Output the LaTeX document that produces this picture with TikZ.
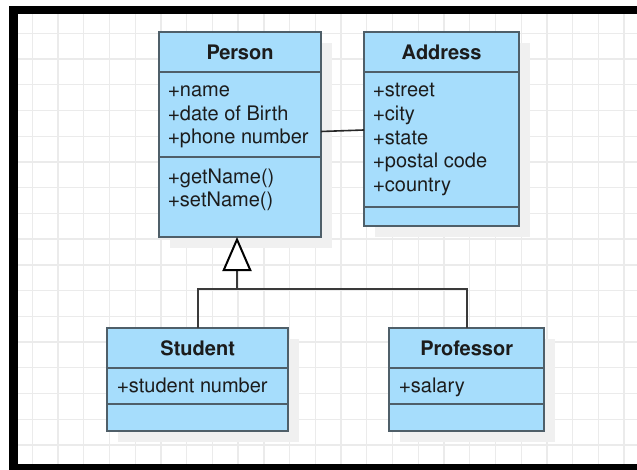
\documentclass[tikz,border=0pt]{standalone}
\usepackage[T1]{fontenc}
\usepackage{helvet}
\renewcommand{\familydefault}{\sfdefault}
\usetikzlibrary{arrows.meta}
\definecolor{classfill}{HTML}{A6DDFC}
\definecolor{classline}{HTML}{4F5F69}
\definecolor{gridgrey}{HTML}{EBEBEB}
\definecolor{txt}{HTML}{1C1C1C}
\definecolor{wire}{HTML}{3A3A3A}

\begin{document}
\begin{tikzpicture}[x=1bp,y=-1bp,
  classbox/.style={draw=classline, fill=classfill, line width=2bp, rectangle,
    inner sep=0pt, outer sep=0pt, anchor=north west},
  boxshadow/.style={fill=black!6, rectangle,
    inner sep=0pt, outer sep=0pt, anchor=north west},
  divider/.style={draw=classline, line width=2bp},
  gridline/.style={draw=gridgrey, line width=1.3bp},
  classname/.style={font=\fontsize{20bp}{24bp}\selectfont\bfseries, text=txt,
    inner sep=0pt, anchor=base},
  member/.style={font=\fontsize{20bp}{24bp}\selectfont, text=txt,
    inner sep=0pt, anchor=base west},
  wireline/.style={draw=wire, line width=2bp},
]
\useasboundingbox (0,0) rectangle (637,470);
\fill[white] (0,0) rectangle (637,470);

% background grid
\foreach \i in {0,...,23}
  \draw[gridline] ({32.3+25.73*\i},14) -- ({32.3+25.73*\i},464);
\foreach \j in {0,...,16}
  \draw[gridline] (18,{33.3+25.73*\j}) -- (637,{33.3+25.73*\j});

% frame: top, left and bottom bands
\fill[black] (9,6) rectangle (637,14);
\fill[black] (9,6) rectangle (18,470);
\fill[black] (9,464) rectangle (637,470);

% drop shadows
\node[boxshadow, minimum width=162bp, minimum height=205bp] (person-sh) at (170,43) {};
\node[boxshadow, minimum width=155bp, minimum height=194bp] (address-sh) at (375,43) {};
\node[boxshadow, minimum width=181bp, minimum height=103bp] (student-sh) at (118,339) {};
\node[boxshadow, minimum width=155bp, minimum height=103bp] (professor-sh) at (400,339) {};

% class boxes
\node[classbox, minimum width=162bp, minimum height=205bp] (person) at (159,32) {};
\node[classbox, minimum width=155bp, minimum height=194bp] (address) at (364,32) {};
\node[classbox, minimum width=181bp, minimum height=103bp] (student) at (107,328) {};
\node[classbox, minimum width=155bp, minimum height=103bp] (professor) at (389,328) {};

% compartment dividers
\draw[divider] (person.west |- 0,72) -- (person.east |- 0,72);
\draw[divider] (person.west |- 0,157) -- (person.east |- 0,157);
\draw[divider] (address.west |- 0,72) -- (address.east |- 0,72);
\draw[divider] (address.west |- 0,207) -- (address.east |- 0,207);
\draw[divider] (student.west |- 0,368) -- (student.east |- 0,368);
\draw[divider] (student.west |- 0,404) -- (student.east |- 0,404);
\draw[divider] (professor.west |- 0,368) -- (professor.east |- 0,368);
\draw[divider] (professor.west |- 0,404) -- (professor.east |- 0,404);

% class names
\node[classname] (person-name) at (240,60) {Person};
\node[classname] (address-name) at (441.5,60) {Address};
\node[classname] (student-name) at (197.7,355.7) {Student};
\node[classname] (professor-name) at (466.7,355.7) {Professor};

% Person members
\node[member] (p-a1) at (168,97) {+name};
\node[member] (p-a2) at (168,120.5) {+date of Birth};
\node[member] (p-a3) at (168,144) {+phone number};
\node[member] (p-m1) at (168,183.3) {+getName()};
\node[member] (p-m2) at (168,206.8) {+setName()};

% Address members
\node[member] (a-a1) at (373,96.7) {+street};
\node[member] (a-a2) at (373,120.4) {+city};
\node[member] (a-a3) at (373,144.1) {+state};
\node[member] (a-a4) at (373,168) {+postal code};
\node[member] (a-a5) at (373,192) {+country};

% Student and Professor members
\node[member] (s-a1) at (117,392.3) {+student number};
\node[member] (pr-a1) at (399,392.3) {+salary};

% association
\draw[draw=black!85, line width=1.6bp] (person.east |- 0,131.5) -- (address.west |- 0,130);

% generalisation
\coordinate (fork) at (237,289.3);
\draw[wireline] (student.north) |- (fork) -| (professor.north);
\draw[wireline, -{Triangle[length=34bp, width=29bp, fill=white, color=black]}]
  (fork) -- (person.south -| fork);
\end{tikzpicture}
\end{document}
